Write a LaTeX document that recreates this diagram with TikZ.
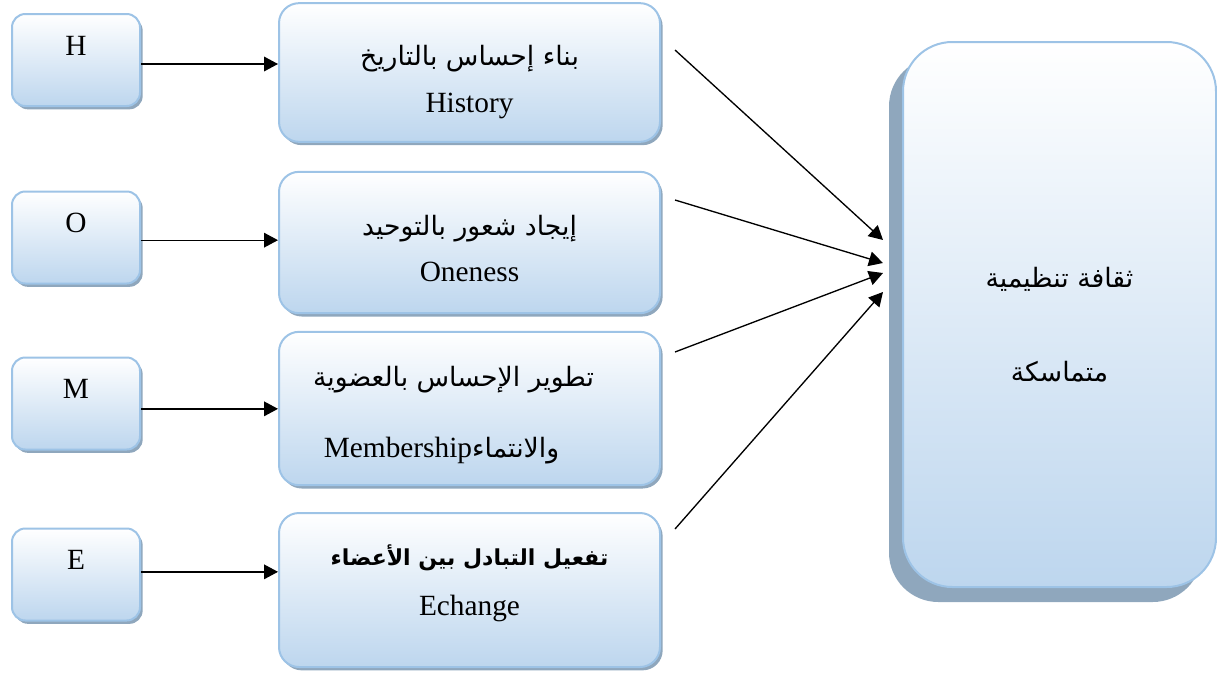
\documentclass[tikz,border=0pt]{standalone}
\usepackage{fontspec}
\setmainfont{Liberation Serif}
\newfontfamily\arabicfont[Script=Arabic]{DejaVu Sans}
\TeXXeTstate=1
\usetikzlibrary{arrows.meta,shadows}
\definecolor{boxline}{HTML}{9DC3E6}
\definecolor{boxfill}{HTML}{BDD6EE}
\definecolor{boxshadow}{HTML}{8FA7BD}
\newcommand{\ar}[1]{{\arabicfont\fontsize{20}{35}\selectfont\beginR #1\endR}}
\tikzset{
    bluebox/.style={draw=boxline, line width=1.5pt, top color=white, bottom color=boxfill},
    letterbox/.style={bluebox, rounded corners=10pt, minimum width=96pt, minimum height=69pt,
        text height=15pt, text depth=22.5pt, font=\fontsize{22}{26}\selectfont,
        drop shadow={fill=boxshadow, opacity=1, shadow xshift=2pt, shadow yshift=-2.5pt}},
    factorbox/.style={bluebox, rounded corners=15pt, minimum width=285.75pt, align=center,
        font=\fontsize{22}{35}\selectfont,
        drop shadow={fill=boxshadow, opacity=1, shadow xshift=2pt, shadow yshift=-2.5pt}},
    culturebox/.style={bluebox, rounded corners=37pt, minimum width=234.75pt, minimum height=408.75pt,
        align=center, font=\fontsize{20}{35}\selectfont,
        drop shadow={fill=boxshadow, opacity=1, shadow xshift=-10.5pt, shadow yshift=-11.25pt}},
    arr/.style={line width=1pt, -{Triangle[length=10.5pt,width=11pt]}}
}
\begin{document}
\begin{tikzpicture}[x=0.75pt,y=-0.75pt]
        \useasboundingbox (0,0) rectangle (1217,675);

        \node[letterbox] (hbox) at (76,60) {H};
        \node[letterbox] (obox) at (76,237.5) {O};
        \node[letterbox] (mbox) at (76,403.5) {M};
        \node[letterbox] (ebox) at (76,574.5) {E};

        \node[factorbox, minimum height=104pt, text height=64pt] (hist) at (469.5,72.5)
            {\ar{بناء إحساس بالتاريخ}\\History};
        \node[factorbox, minimum height=106pt, text height=59.25pt] (one) at (469.5,242.5)
            {\ar{إيجاد شعور بالتوحيد}\\Oneness};
        \node[factorbox, minimum height=115pt, text height=77.75pt] (memb) at (469.5,408.5)
            {\ar{تطوير الإحساس بالعضوية}\hspace*{24pt}\\[18pt]Membership\ar{والانتماء}\hspace*{42pt}};
        \node[factorbox, minimum height=115.5pt, text height=42.3pt] (exch) at (469.5,590)
            {{\arabicfont\fontsize{16.5}{35}\selectfont\bfseries\beginR تفعيل التبادل بين الأعضاء\endR}\\[2.5pt]Echange};

        \node[culturebox, text height=100.25pt] (cult) at (1059.5,314.5)
            {\ar{ثقافة تنظيمية}\\[35.5pt]\ar{متماسكة}};

        \draw[arr] ([yshift=-3pt]hbox.east) -- ([yshift=-3pt]hbox.east -| hist.west);
        \draw[arr] ([yshift=-2pt]obox.east) -- ([yshift=-2pt]obox.east -| one.west);
        \draw[arr] ([yshift=-4pt]mbox.east) -- ([yshift=-4pt]mbox.east -| memb.west);
        \draw[arr] ([yshift=2pt]ebox.east) -- ([yshift=2pt]ebox.east -| exch.west);

        \coordinate (hs) at (675,50);
        \coordinate (os) at (675,200);
        \coordinate (ms) at (675,352);
        \coordinate (es) at (675,529);
        \coordinate (he) at (883,240);
        \coordinate (oe) at (883,263);
        \coordinate (me) at (883,273);
        \coordinate (ee) at (883,292);
        \draw[arr] (hs) -- (he);
        \draw[arr] (os) -- (oe);
        \draw[arr] (ms) -- (me);
        \draw[arr] (es) -- (ee);
\end{tikzpicture}
\end{document}
